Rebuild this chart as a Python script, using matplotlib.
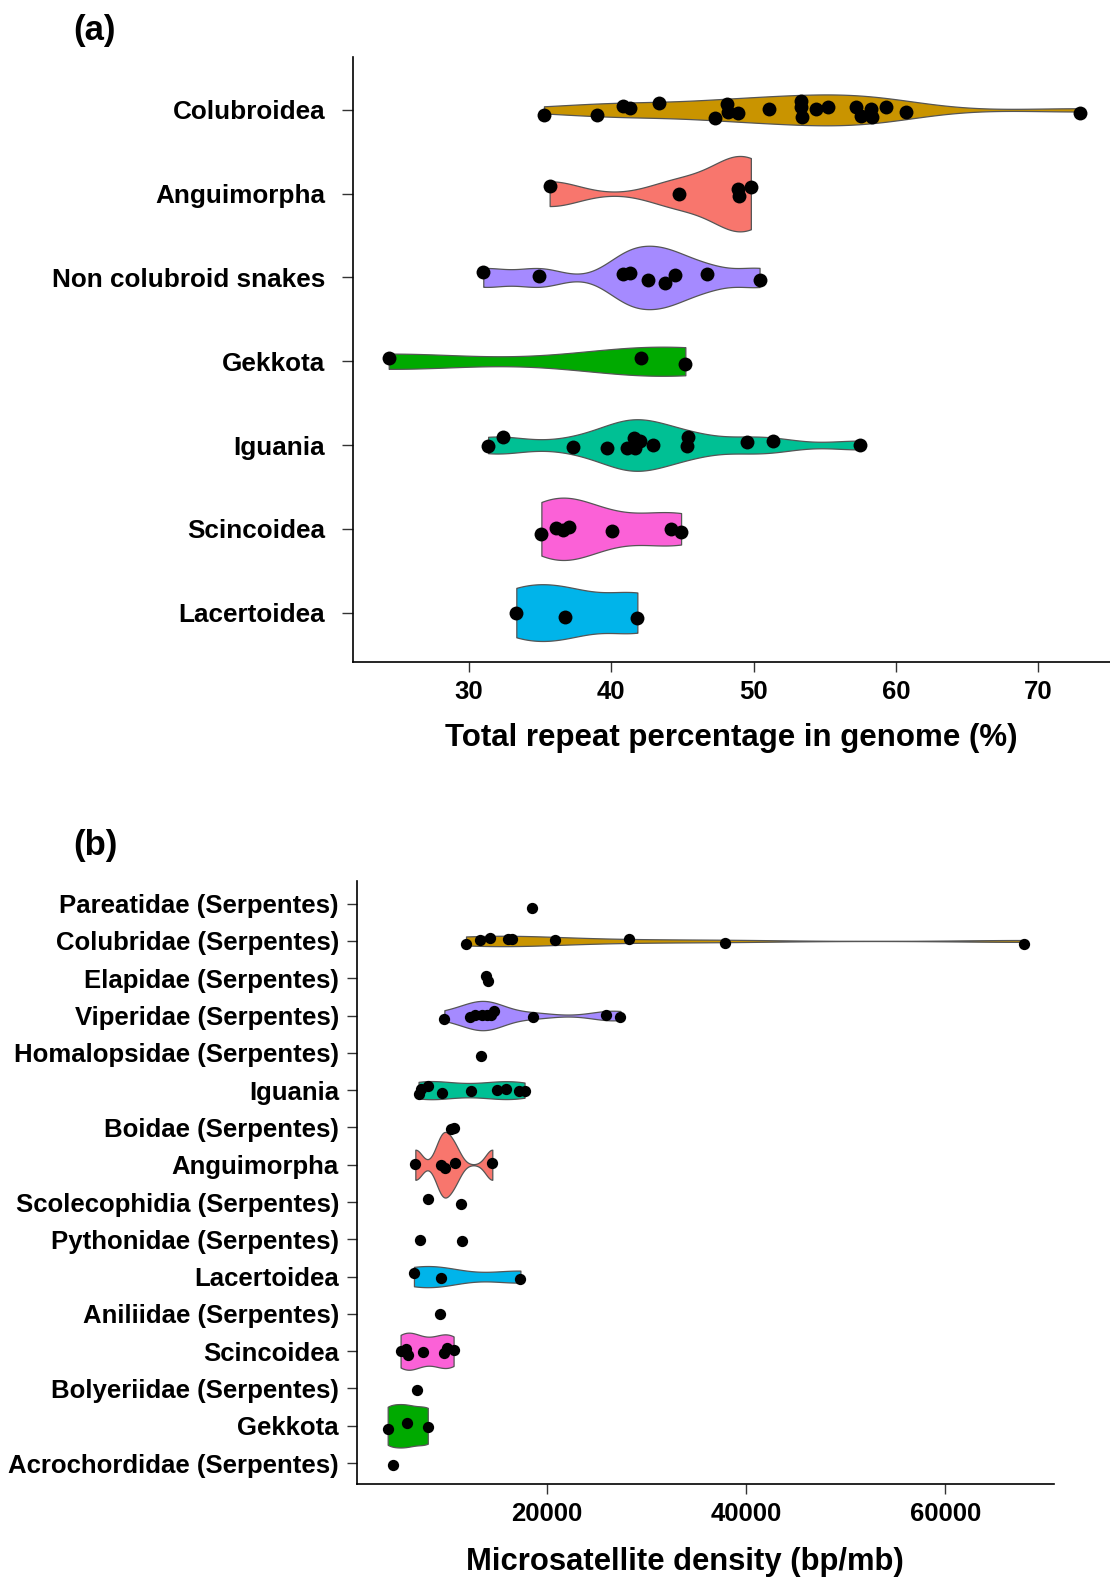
import numpy as np
import matplotlib
matplotlib.use("Agg")
import matplotlib.pyplot as plt

plt.rcParams['font.family'] = ['Liberation Sans', 'DejaVu Sans']
plt.rcParams['font.weight'] = 'bold'

# ---- panel (a): total repeat percentage, categories listed top to bottom
cats_a = ["Colubroidea", "Anguimorpha", "Non colubroid snakes", "Gekkota",
          "Iguania", "Scincoidea", "Lacertoidea"]
colors_a = ["#C99400", "#F8766D", "#A58AFF", "#00AA00", "#00C094", "#FB61D7", "#00B4EA"]
vals_a = [
    [35.28, 39.02, 40.82, 41.33, 43.38, 47.32, 48.11, 48.21, 48.89, 51.1, 53.3,
     53.3, 53.4, 54.4, 55.26, 57.16, 57.57, 58.25, 58.35, 59.3, 60.73, 72.95],
    [35.68, 44.74, 48.89, 48.96, 49.81],
    [31.02, 34.94, 40.82, 41.33, 42.59, 43.78, 44.47, 46.75, 50.42],
    [24.38, 42.08, 45.21],
    [31.36, 32.38, 37.32, 39.7, 41.57, 42.0, 41.1, 41.64, 42.93, 45.42, 45.32,
     49.57, 51.37, 57.5],
    [35.1, 36.13, 36.64, 37.05, 40.04, 44.19, 44.91],
    [33.34, 36.74, 41.84],
]
# vertical jitter of each point (category units)
jit_a = [
    [-0.056, -0.067, 0.05, 0.02, 0.08, -0.10, 0.07, -0.02, -0.04, 0.01, 0.11,
     0.03, -0.09, 0.01, 0.04, 0.04, -0.07, 0.01, -0.08, 0.04, -0.03, -0.04],
    [0.095, -0.004, 0.06, -0.024, 0.08],
    [0.063, 0.02, 0.044, 0.05, -0.036, -0.067, 0.03, 0.044, -0.028],
    [0.04, 0.04, -0.03],
    [-0.008, 0.10, -0.02, -0.036, 0.08, 0.05, -0.036, -0.036, 0.0, 0.09, -0.008,
     0.04, 0.05, 0.004],
    [-0.067, 0.012, -0.02, 0.02, -0.032, -0.008, -0.04],
    [0.0, -0.05, -0.06],
]
ticks_a = [30, 40, 50, 60, 70]

# ---- panel (b): microsatellite density
cats_b = ["Pareatidae (Serpentes)", "Colubridae (Serpentes)", "Elapidae (Serpentes)",
          "Viperidae (Serpentes)", "Homalopsidae (Serpentes)", "Iguania",
          "Boidae (Serpentes)", "Anguimorpha", "Scolecophidia (Serpentes)",
          "Pythonidae (Serpentes)", "Lacertoidea", "Aniliidae (Serpentes)",
          "Scincoidea", "Bolyeriidae (Serpentes)", "Gekkota", "Acrochordidae (Serpentes)"]
colors_b = [None, "#C99400", None, "#A58AFF", None, "#00C094", None, "#F8766D",
            None, None, "#00B4EA", None, "#FB61D7", None, "#00AA00", None]
vals_b = [
    [18520],
    [11908, 13295, 14359, 16070, 16532, 20786, 28231, 37849, 67858],
    [13896, 14081],
    [9735, 12278, 12833, 13526, 13989, 14451, 14682, 18613, 25919, 27398],
    [13434],
    [7145, 7422, 8070, 9503, 12370, 15006, 15931, 17226, 17780],
    [10382, 10660],
    [6822, 9364, 9827, 10752, 14544],
    [8070, 11446],
    [7284, 11538],
    [6683, 9364, 17364],
    [9272],
    [5342, 5897, 6128, 7607, 9688, 9966, 10660],
    [6960],
    [4047, 5943, 8070],
    [4602],
]
jit_b = [
    [-0.107],
    [-0.09, 0.02, 0.09, 0.06, 0.06, 0.036, 0.045, -0.054, -0.09],
    [0.05, -0.08],
    [-0.08, -0.036, 0.01, 0.027, 0.01, 0.02, 0.116, -0.036, 0.01, -0.036],
    [-0.09],
    [-0.116, 0.027, 0.098, -0.071, -0.018, 0.0, 0.027, -0.027, -0.027],
    [-0.045, -0.009],
    [0.009, -0.018, -0.08, 0.054, 0.054],
    [0.07, -0.06],
    [-0.018, -0.045],
    [0.09, -0.027, -0.07],
    [0.01],
    [0.01, 0.07, -0.1, -0.01, -0.06, 0.08, 0.027],
    [-0.045],
    [-0.09, 0.08, -0.045],
    [-0.054],
]
ticks_b = [20000, 40000, 60000]


def bw_nrd0(x):
    x = np.asarray(x, float)
    sd = x.std(ddof=1)
    q75, q25 = np.percentile(x, [75, 25])
    lo = min(sd, (q75 - q25) / 1.34)
    if lo == 0:
        lo = sd or abs(x[0]) or 1.0
    return 0.9 * lo * len(x) ** -0.2


def trimmed_density(x, n=512):
    x = np.asarray(x, float)
    bw = bw_nrd0(x)
    grid = np.linspace(x.min(), x.max(), n)
    z = (grid[:, None] - x[None, :]) / bw
    dens = np.exp(-0.5 * z ** 2).sum(axis=1) / (len(x) * bw * np.sqrt(2 * np.pi))
    return grid, dens


def violin_panel(ax, cats, colors, vals, jits, half_max, dot_size):
    n = len(cats)
    pos = [n - i for i in range(n)]
    curves = {}
    for i, v in enumerate(vals):
        if colors[i] is not None and len(v) >= 3:
            curves[i] = trimmed_density(v)
    dmax = max(d.max() for g, d in curves.values())   # "area" scaling
    for i, (g, d) in curves.items():
        half = d / dmax * half_max
        ax.fill_between(g, pos[i] - half, pos[i] + half, facecolor=colors[i],
                        edgecolor="#555555", linewidth=0.9, zorder=2)
    for i, v in enumerate(vals):
        ax.scatter(v, pos[i] + np.asarray(jits[i]), s=dot_size, color="black",
                   linewidths=0, zorder=3)
    ax.set_yticks(pos)
    ax.set_yticklabels(cats)
    for side in ["top", "right"]:
        ax.spines[side].set_visible(False)
    for side in ["left", "bottom"]:
        ax.spines[side].set_linewidth(1.2)
        ax.spines[side].set_color("black")


fig = plt.figure(figsize=(11.10, 15.77), dpi=100)

# panel (a)
ax1 = fig.add_axes([0.318, 0.5802, 0.682, 0.3836])
violin_panel(ax1, cats_a, colors_a, vals_a, jit_a, 0.45, 100)
ax1.set_xlim(21.87, 75.03)
ax1.set_ylim(0.41, 7.63)
ax1.set_xticks(ticks_a)
ax1.tick_params(axis="y", length=8, width=1, color="#333333", pad=12, labelsize=18.8)
ax1.tick_params(axis="x", length=7, width=1, color="#333333", pad=6, labelsize=18.5)
ax1.set_xlabel("Total repeat percentage in genome (%)", fontsize=22.5, fontweight="bold",
               va="baseline")
ax1.xaxis.set_label_coords(0.5, -0.139)

# panel (b)
ax2 = fig.add_axes([0.3216, 0.059, 0.628, 0.3824])
violin_panel(ax2, cats_b, colors_b, vals_b, jit_b, 0.88, 66)
ax2.set_xlim(967, 70906)
ax2.set_ylim(0.44, 16.61)
ax2.set_xticks(ticks_b)
ax2.set_xticklabels([str(t) for t in ticks_b])
ax2.tick_params(axis="y", length=7, width=1, color="#333333", pad=6, labelsize=18.5)
ax2.tick_params(axis="x", length=7, width=1, color="#333333", pad=6, labelsize=18.5)
ax2.set_xlabel("Microsatellite density (bp/mb)", fontsize=22.3, fontweight="bold",
               va="baseline")
ax2.xaxis.set_label_coords(0.47, -0.1426)

fig.text(73 / 1110, 1 - 40 / 1577, "(a)", fontsize=25, fontweight="bold", va="baseline")
fig.text(73 / 1110, 1 - 855 / 1577, "(b)", fontsize=25, fontweight="bold", va="baseline")

fig.savefig("out.png", dpi=100)
